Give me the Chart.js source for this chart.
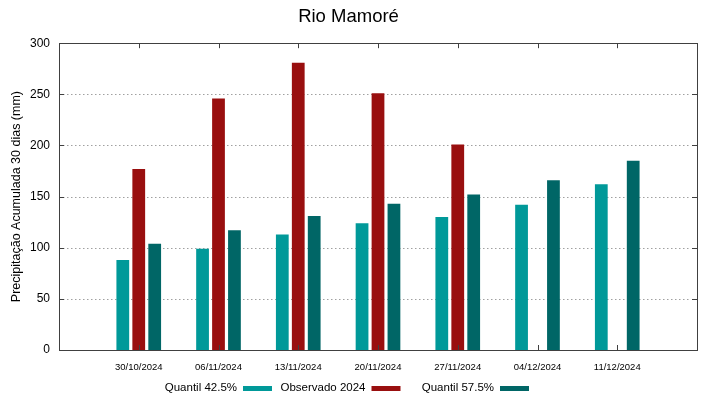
<!DOCTYPE html>
<html>
<head>
<meta charset="utf-8">
<script src="https://cdn.jsdelivr.net/npm/chart.js@4.4.0/dist/chart.umd.min.js"></script>
<style>
  html, body { margin: 0; padding: 0; background: #fff; }
</style>
</head>
<body>
<canvas id="chart" width="719" height="399"></canvas>
<script>
// Chart data
const dates = ['30/10/2024', '06/11/2024', '13/11/2024', '20/11/2024', '27/11/2024', '04/12/2024', '11/12/2024'];
const quantil425 = [88, 99, 113, 124, 130, 142, 162];
const observado2024 = [177, 246, 281, 251, 201, null, null];
const quantil575 = [104, 117, 131, 143, 152, 166, 185];
const yTicks = [0, 50, 100, 150, 200, 250, 300];

const FONT = '"Liberation Sans", Arial, sans-serif';

// turns a series into {x, y} points on the linear x axis
function toPoints(values){
  return values.map((v, i) => ({x: i, y: v}));
}

// gnuplot style frame, dotted grid, inward ticks and legend
const gnuplotLook = {
  id: 'gnuplotLook',
  beforeDatasetsDraw(chart){
    const ctx = chart.ctx;
    const area = chart.chartArea;
    const y = chart.scales.y;
    ctx.save();
    ctx.strokeStyle = '#a0a0a0';
    ctx.lineWidth = 1;
    ctx.setLineDash([1.5, 2.5]);
    yTicks.forEach(t => {
      if (t === 0 || t === 300) return;
      const py = Math.round(y.getPixelForValue(t)) + 0.5;
      ctx.beginPath();
      ctx.moveTo(area.left, py);
      ctx.lineTo(area.right - 6, py);
      ctx.stroke();
    });
    ctx.restore();
  },
  afterDatasetsDraw(chart){
    const ctx = chart.ctx;
    const area = chart.chartArea;
    const x = chart.scales.x;
    const y = chart.scales.y;
    ctx.save();
    ctx.strokeStyle = '#404040';
    ctx.lineWidth = 1;
    ctx.setLineDash([]);
    // frame
    ctx.strokeRect(Math.round(area.left) + 0.5, Math.round(area.top) + 0.5,
      Math.round(area.right - area.left), Math.round(area.bottom - area.top));
    // x ticks, top and bottom, pointing inward
    dates.forEach((d, i) => {
      const px = Math.round(x.getPixelForValue(i)) + 0.5;
      ctx.beginPath();
      ctx.moveTo(px, area.top); ctx.lineTo(px, area.top + 5);
      ctx.moveTo(px, area.bottom); ctx.lineTo(px, area.bottom - 5);
      ctx.stroke();
    });
    // y ticks, left and right
    yTicks.forEach(t => {
      const py = Math.round(y.getPixelForValue(t)) + 0.5;
      ctx.beginPath();
      ctx.moveTo(area.left, py); ctx.lineTo(area.left + 5, py);
      ctx.moveTo(area.right, py); ctx.lineTo(area.right - 5, py);
      ctx.stroke();
    });
    ctx.restore();

    // legend: text right-aligned, then a colour sample
    ctx.save();
    ctx.font = '11.5px ' + FONT;
    ctx.fillStyle = '#000';
    ctx.textAlign = 'right';
    ctx.textBaseline = 'middle';
    chart.data.datasets.forEach((ds, i) => {
      const right = 237 + 128.5 * i;
      ctx.fillText(ds.label, right, 388);
      ctx.fillStyle = ds.backgroundColor;
      ctx.fillRect(right + 6, 386, 29, 5);
      ctx.fillStyle = '#000';
    });
    ctx.restore();
  }
};

new Chart(document.getElementById('chart'), {
  type: 'bar',
  data: {
    datasets: [
      {label: 'Quantil 42.5%', data: toPoints(quantil425), backgroundColor: '#009999'},
      {label: 'Observado 2024', data: toPoints(observado2024), backgroundColor: '#990f0f'},
      {label: 'Quantil 57.5%', data: toPoints(quantil575), backgroundColor: '#006666'}
    ]
  },
  options: {
    responsive: false,
    animation: false,
    devicePixelRatio: 1,
    categoryPercentage: 0.6,
    barPercentage: 0.8,
    layout: {padding: {top: 0, right: 22, bottom: 0, left: 0}},
    plugins: {
      legend: {display: false},
      tooltip: {enabled: false},
      title: {
        display: true,
        text: 'Rio Mamoré',
        color: '#000',
        font: {family: FONT, size: 18.5, weight: 'normal'},
        padding: {top: 6, bottom: 15}
      }
    },
    scales: {
      x: {
        type: 'linear',
        min: -1,
        max: 7,
        offset: false,
        grid: {display: false, offset: false},
        border: {display: false},
        afterFit(scale){ scale.height = 49; },
        ticks: {
          stepSize: 1,
          autoSkip: false,
          maxRotation: 0,
          padding: 4,
          color: '#000',
          font: {family: FONT, size: 9.5},
          callback: (v) => dates[v] || ''
        }
      },
      y: {
        min: 0,
        max: 300,
        grid: {display: false},
        border: {display: false},
        afterFit(scale){ scale.width = 59; },
        ticks: {
          stepSize: 50,
          padding: 1,
          color: '#000',
          font: {family: FONT, size: 12}
        },
        title: {
          display: true,
          text: 'Precipitação Acumulada 30 dias (mm)',
          color: '#000',
          font: {family: FONT, size: 12.5},
          padding: {top: 9, bottom: 0}
        }
      }
    }
  },
  plugins: [gnuplotLook]
});
</script>
</body>
</html>
